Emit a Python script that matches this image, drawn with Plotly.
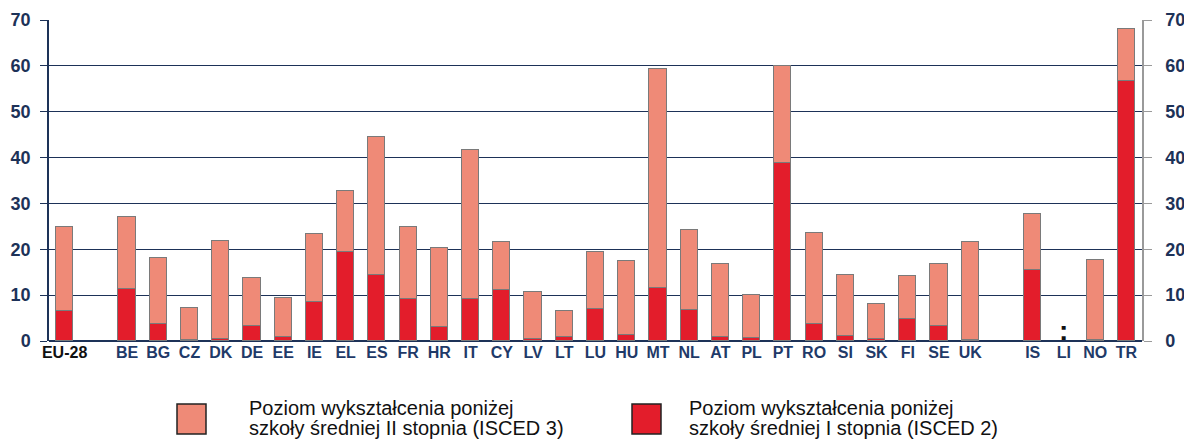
import plotly.graph_objects as go

# ---- data ----
groups = [
    ["EU-28"],
    ["BE", "BG", "CZ", "DK", "DE", "EE", "IE", "EL", "ES", "FR", "HR", "IT", "CY", "LV",
     "LT", "LU", "HU", "MT", "NL", "AT", "PL", "PT", "RO", "SI", "SK", "FI", "SE", "UK"],
    ["IS", "LI", "NO", "TR"],
]
isced2 = [6.5,
          11.3, 3.6, 0.2, 0.5, 3.3, 0.9, 8.6, 19.4, 14.4, 9.2, 3.1, 9.1, 11.1, 0.4,
          0.9, 7.0, 1.3, 11.6, 6.8, 0.9, 0.7, 38.9, 3.8, 1.1, 0.5, 4.9, 3.3, 0.2,
          15.5, None, 0.2, 56.8]
isced3 = [18.4,
          15.8, 14.6, 7.0, 21.2, 10.4, 8.5, 14.7, 13.3, 30.1, 15.7, 17.2, 32.5, 10.4, 10.3,
          5.7, 12.4, 16.1, 47.7, 17.4, 15.9, 9.3, 21.0, 19.8, 13.4, 7.6, 9.3, 13.5, 21.4,
          12.2, None, 17.5, 11.2]
missing = ["LI"]
name3 = ["Poziom wykształcenia poniżej", "szkoły średniej II stopnia (ISCED 3)"]
name2 = ["Poziom wykształcenia poniżej", "szkoły średniej I stopnia (ISCED 2)"]
y_ticks = [0, 10, 20, 30, 40, 50, 60, 70]

# ---- positions: one empty slot between groups ----
cats, xs = [], []
pos = 0
for gi, g in enumerate(groups):
    for c in g:
        cats.append(c)
        xs.append(pos)
        pos += 1
    pos += 1
n_slots = pos - 1

C_LIGHT = "#EF8A77"
C_DARK = "#E31D2B"
NAVY = "#1D3258"
LBL = "#1F3A68"
FONT = "Liberation Sans"

ticktext = [("<span style='color:#111111'>%s</span>" % c) if c == "EU-28" else c for c in cats]

fig = go.Figure()
fig.add_trace(go.Bar(x=xs, y=isced2, name=" ".join(name2), marker=dict(color=C_DARK, line=dict(color="#7a7a7a", width=1)),
                     width=0.55, showlegend=False))
fig.add_trace(go.Bar(x=xs, y=isced3, name=" ".join(name3), marker=dict(color=C_LIGHT, line=dict(color="#7a7a7a", width=1)),
                     width=0.55, showlegend=False))
# invisible trace for the right axis
fig.add_trace(go.Scatter(x=[xs[0]], y=[0], yaxis="y2", mode="markers", marker=dict(opacity=0),
                         showlegend=False, hoverinfo="skip"))

for c in missing:
    fig.add_annotation(x=xs[cats.index(c)], y=2.3, text="<b>:</b>", showarrow=False,
                       font=dict(family=FONT, size=28, color="#111111"), yanchor="middle")

fig.update_layout(
    width=1184, height=441,
    margin=dict(l=49, r=42, t=20, b=100, autoexpand=False),
    paper_bgcolor="white", plot_bgcolor="white",
    barmode="stack",
    bargap=0,
    xaxis=dict(range=[-0.5, n_slots - 0.5], tickmode="array", tickvals=xs, ticktext=ticktext,
               showgrid=False, zeroline=False, showline=False, ticks="", automargin=False,
               tickfont=dict(family=FONT, size=16, color=LBL, weight="bold")),
    yaxis=dict(range=[0, 70], tickvals=y_ticks, showgrid=True, gridcolor=NAVY, gridwidth=1,
               zeroline=True, zerolinecolor=NAVY, zerolinewidth=1.5, automargin=False,
               showline=True, linecolor=NAVY, linewidth=1.5,
               ticks="outside", ticklen=7, tickcolor=NAVY, ticklabelstandoff=6,
               tickfont=dict(family=FONT, size=18, color=NAVY, weight="bold")),
    yaxis2=dict(range=[0, 70], tickvals=y_ticks, overlaying="y", side="right", showgrid=False,
                zeroline=False, showline=True, linecolor="#9a9a9a", linewidth=1.5, automargin=False,
                ticks="outside", ticklen=8, tickcolor="#9a9a9a", ticklabelstandoff=10,
                tickfont=dict(family=FONT, size=18, color=NAVY, weight="bold")),
)

# ---- manual legend ----
PW, PH = 1093, 321
def px(x):
    return (x - 49) / PW
def py(y):
    return -(y - 341) / PH

legend_items = [(name3, C_LIGHT, 177, 247), (name2, C_DARK, 632, 687)]
for lines, col, bx, tx in legend_items:
    fig.add_shape(type="rect", xref="paper", yref="paper",
                  x0=px(bx), x1=px(bx + 29), y0=py(404), y1=py(434),
                  fillcolor=col, line=dict(color="#222222", width=1.5))
    for li, (txt, yy) in enumerate(zip(lines, [408, 428])):
        fig.add_annotation(xref="paper", yref="paper", x=px(tx), y=py(yy),
                           xanchor="left", yanchor="middle", align="left", showarrow=False,
                           text=txt, font=dict(family=FONT, size=20, color="#111111"))

fig.write_html("out.html", config={"displayModeBar": False},
               post_script="document.body.style.margin='0';document.body.style.overflow='hidden';")
